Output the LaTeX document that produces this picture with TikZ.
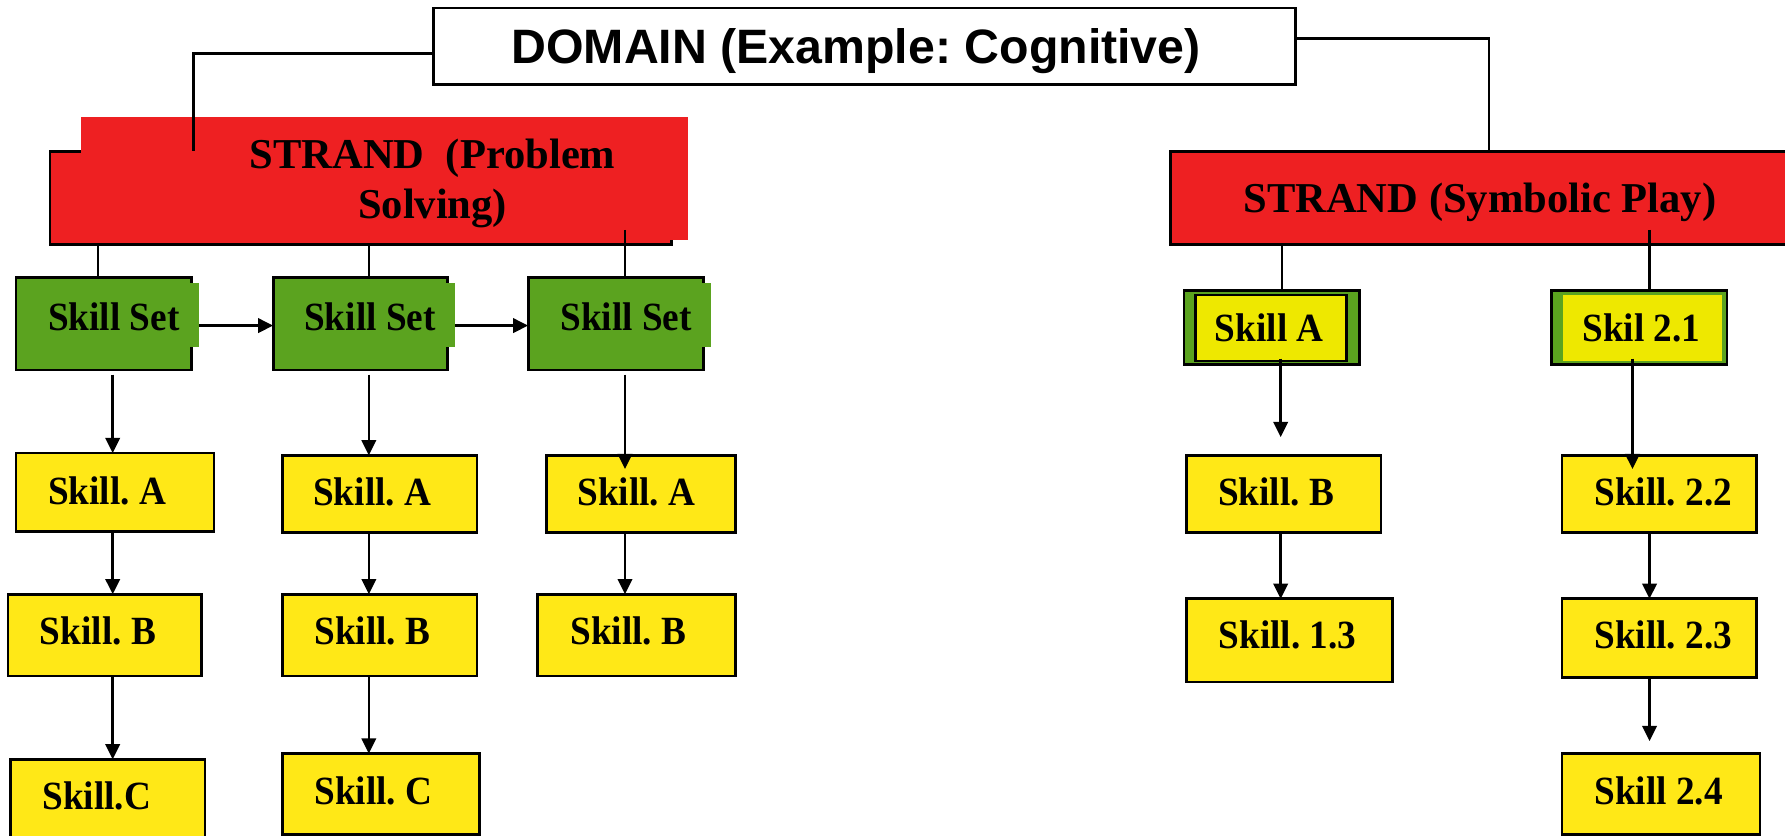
\documentclass[tikz,border=0pt]{standalone}
\usepackage{fontspec}
\setmainfont{Liberation Serif}
\newfontfamily\sansbold{Liberation Sans}
\newfontfamily\skillfont[FakeStretch=0.93]{Liberation Serif}
\usetikzlibrary{fit,arrows.meta}
\definecolor{sred}{RGB}{238,32,34}
\definecolor{sgreen}{RGB}{91,163,31}
\definecolor{syel}{RGB}{255,232,23}
\definecolor{syeltwo}{RGB}{238,232,0}
\frenchspacing
\begin{document}
\begin{tikzpicture}[x=0.01cm,y=-0.01cm,
  box/.style={inner sep=0pt, outer sep=0pt, line width=0.65pt},
  ybox/.style={box, draw=black, fill=syel},
  gbox/.style={box, draw=black, fill=sgreen},
  rbox/.style={box, draw=black, fill=sred},
  wbox/.style={box, draw=black, fill=white},
  gpatch/.style={inner sep=0pt, outer sep=0pt, fill=sgreen},
  rpatch/.style={inner sep=0pt, outer sep=0pt, fill=sred},
  conn/.style={line width=0.65pt, draw=black},
  arr/.style={conn, -{Triangle[length=3.8pt,width=3.6pt]}},
  skilltxt/.style={font=\skillfont\fontsize{10}{12}\selectfont\bfseries, anchor=base, inner sep=0pt},
  strandtxt/.style={font=\fontsize{10.63}{12.5}\selectfont\bfseries, anchor=base, inner sep=0pt},
  domtxt/.style={font=\sansbold\fontsize{12.06}{14}\selectfont\bfseries, anchor=base, inner sep=0pt}
]
\useasboundingbox (0,0) rectangle (1568,734);
\clip (0,0) rectangle (1568,734);

% Domain
\node[wbox, fit={(381,7) (1138,74)}] (dom) {};
\node[domtxt] (domt) at (752,56) {DOMAIN (Example: Cognitive)};

% Strand Problem Solving
\node[rbox, fit={(44,133) (590,215)}] (sp) {};
\node[rpatch, fit={(71,103) (604,211)}] (spx) {};
\node[strandtxt] (spt1) at (380,148) {STRAND~~(Problem};
\node[strandtxt] (spt2) at (380,192) {Solving)};

% Strand Symbolic Play
\node[rbox, fit={(1028,133) (1590,215)}] (sym) {};
\node[strandtxt] (symt) at (1300,187) {STRAND (Symbolic Play)};

% Skill sets
\node[gbox, fit={(14,244) (168,325)}] (ss1) {};
\node[gpatch, fit={(150,249) (175,305)}] (ss1x) {};
\node[skilltxt] (ss1t) at (100,290) {Skill Set};
\node[gbox, fit={(240,244) (393,325)}] (ss2) {};
\node[gpatch, fit={(375,249) (400,305)}] (ss2x) {};
\node[skilltxt] (ss2t) at (325,290) {Skill Set};
\node[gbox, fit={(464,244) (618,325)}] (ss3) {};
\node[gpatch, fit={(600,249) (625,305)}] (ss3x) {};
\node[skilltxt] (ss3t) at (550,290) {Skill Set};

% Left yellow boxes
\node[ybox, fit={(14,398) (188,467)}] (a1) {};
\node[skilltxt] (a1t) at (94,443) {Skill. A};
\node[ybox, fit={(7,522) (177,594)}] (b1) {};
\node[skilltxt] (b1t) at (86,566) {Skill. B};
\node[ybox, fit={(9,667) (180,760)}] (c1) {};
\node[skilltxt] (c1t) at (85,711) {Skill.C};

\node[ybox, fit={(248,400) (419,468)}] (a2) {};
\node[skilltxt] (a2t) at (327,444) {Skill. A};
\node[ybox, fit={(248,522) (419,594)}] (b2) {};
\node[skilltxt] (b2t) at (327,566) {Skill. B};
\node[ybox, fit={(248,662) (421,733)}] (c2) {};
\node[skilltxt] (c2t) at (328,707) {Skill. C};

\node[ybox, fit={(480,400) (646,468)}] (a3) {};
\node[skilltxt] (a3t) at (559,444) {Skill. A};
\node[ybox, fit={(472,522) (646,594)}] (b3) {};
\node[skilltxt] (b3t) at (552,566) {Skill. B};

% Right boxes
\node[gbox, fit={(1040,255) (1194,320)}] (sa) {};
\node[ybox, fill=syeltwo, fit={(1050,259) (1183,317)}] (sain) {};
\node[skilltxt] (sat) at (1115,300) {Skill A};
\node[gbox, fit={(1363,255) (1517,320)}] (s21) {};
\node[inner sep=0pt, outer sep=0pt, fill=syeltwo, fit={(1373,259) (1513,317)}] (s21in) {};
\node[skilltxt] (s21t) at (1442,300) {Skil 2.1};

\node[ybox, fit={(1042,400) (1213,468)}] (bb) {};
\node[skilltxt] (bbt) at (1121,444) {Skill. B};
\node[ybox, fit={(1042,526) (1223,599)}] (b13) {};
\node[skilltxt] (b13t) at (1131,570) {Skill. 1.3};

\node[ybox, fit={(1372,400) (1543,468)}] (s22) {};
\node[skilltxt] (s22t) at (1461,444) {Skill. 2.2};
\node[ybox, fit={(1372,526) (1543,595)}] (s23) {};
\node[skilltxt] (s23t) at (1461,570) {Skill. 2.3};
\node[ybox, fit={(1372,662) (1546,733)}] (s24) {};
\node[skilltxt] (s24t) at (1457,707) {Skill 2.4};

% helper coordinates for connector ends
\coordinate (sp3top) at (549,202);
\coordinate (a3in) at (549,412);
\coordinate (sym2top) at (1449,202);
\coordinate (saout) at (1125,315);
\coordinate (bbabove) at (1125,384);
\coordinate (s21out) at (1434,315);
\coordinate (s22in) at (1434,412);
\coordinate (s24above) at (1449,651);

% Connectors from domain
\draw[conn] (dom.west |- 0,47) -| (sp.north -| 170,0);
\draw[conn] (dom.east |- 0,34) -| (sym.north -| 1308,0);

% Strand PS to skill sets
\draw[conn] (sp.south -| 86,0) -- (ss1.north -| 86,0);
\draw[conn] (sp.south -| 324,0) -- (ss2.north -| 324,0);
\draw[conn] (sp3top) -- (ss3.north -| sp3top);

% Skill set chain
\draw[arr] (ss1x.east |- 0,286) -- (ss2.west |- 0,286);
\draw[arr] (ss2x.east |- 0,286) -- (ss3.west |- 0,286);

% Column 1
\draw[arr] ([yshift=-0.04cm]ss1.south -| 99,0) -- (a1.north -| 99,0);
\draw[arr] (a1.south -| 99,0) -- (b1.north -| 99,0);
\draw[arr] (b1.south -| 99,0) -- (c1.north -| 99,0);
% Column 2
\draw[arr] ([yshift=-0.04cm]ss2.south -| 324,0) -- (a2.north -| 324,0);
\draw[arr] (a2.south -| 324,0) -- (b2.north -| 324,0);
\draw[arr] (b2.south -| 324,0) -- (c2.north -| 324,0);
% Column 3
\draw[arr] ([yshift=-0.04cm]ss3.south -| 549,0) -- (a3in);
\draw[arr] (a3.south -| 549,0) -- (b3.north -| 549,0);

% Symbolic play
\draw[conn] (sym.south -| 1126,0) -- (sa.north -| 1126,0);
\draw[conn] (sym2top) -- (s21.north -| sym2top);
\draw[arr] (saout) -- (bbabove);
\draw[arr] (bb.south -| 1125,0) -- (b13.north -| 1125,0);
\draw[arr] (s21out) -- (s22in);
\draw[arr] (s22.south -| 1449,0) -- (s23.north -| 1449,0);
\draw[arr] (s23.south -| 1449,0) -- (s24above);
\end{tikzpicture}
\end{document}
